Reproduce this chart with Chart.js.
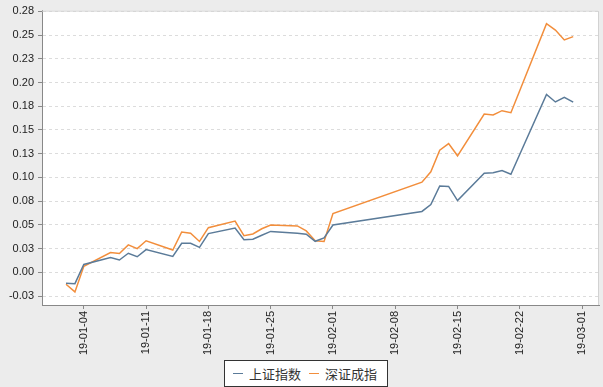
<!DOCTYPE html>
<html>
<head>
<meta charset="utf-8">
<script src="https://cdn.jsdelivr.net/npm/chart.js@4"></script>
<style>
  html, body { margin: 0; padding: 0; background: #ececec; }
  #wrap { position: relative; width: 603px; height: 387px; }
  #legend {
    position: absolute; left: 224px; top: 360px; width: 162px; height: 25px;
    border: 1px solid #333; background: #fff;
    font: 13px "Noto Sans CJK SC", sans-serif; color: #333;
    display: flex; align-items: center; white-space: nowrap;
  }
  #legend .swatch { display: inline-block; width: 10px; height: 0; border-top: 1.5px solid; margin: 0 6px 0 8px; }
</style>
</head>
<body>
<div id="wrap">
  <canvas id="chart" width="603" height="387"></canvas>
  <div id="legend"></div>
</div>
<script>
// trading days, Jan-Feb 2019
const dates = [
  '2019-01-02','2019-01-03','2019-01-04','2019-01-07','2019-01-08','2019-01-09','2019-01-10','2019-01-11',
  '2019-01-14','2019-01-15','2019-01-16','2019-01-17','2019-01-18','2019-01-21','2019-01-22','2019-01-23',
  '2019-01-24','2019-01-25','2019-01-28','2019-01-29','2019-01-30','2019-01-31','2019-02-01','2019-02-11',
  '2019-02-12','2019-02-13','2019-02-14','2019-02-15','2019-02-18','2019-02-19','2019-02-20','2019-02-21',
  '2019-02-22','2019-02-25','2019-02-26','2019-02-27','2019-02-28',
];
// cumulative return
const shIndex = [
  -0.0115, -0.0118, 0.0084, 0.0157, 0.0131, 0.0202, 0.0165, 0.0240,
  0.0168, 0.0307, 0.0307, 0.0264, 0.0409, 0.0468, 0.0344, 0.0349,
  0.0392, 0.0432, 0.0413, 0.0402, 0.0328, 0.0364, 0.0499, 0.0642,
  0.0714, 0.0911, 0.0906, 0.0756, 0.1044, 0.1050, 0.1072, 0.1034,
  0.1244, 0.1874, 0.1795, 0.1844, 0.1793,
];
const szIndex = [
  -0.0125, -0.0205, 0.0065, 0.0210, 0.0200, 0.0290, 0.0250, 0.0333,
  0.0236, 0.0426, 0.0413, 0.0326, 0.0471, 0.0540, 0.0387, 0.0405,
  0.0460, 0.0500, 0.0490, 0.0437, 0.0333, 0.0326, 0.0620, 0.0950,
  0.1060, 0.1287, 0.1356, 0.1228, 0.1668, 0.1658, 0.1703, 0.1682,
  0.1915, 0.2620, 0.2552, 0.2448, 0.2483,
];
const seriesNames = ['上证指数', '深证成指'];
const seriesColors = ['#5b7b99', '#f28e3c'];
const xTickLabels = ['19-01-04','19-01-11','19-01-18','19-01-25','19-02-01','19-02-08','19-02-15','19-02-22','19-03-01'];
const yTicks = [-0.025, 0, 0.025, 0.05, 0.075, 0.1, 0.125, 0.15, 0.175, 0.2, 0.225, 0.25, 0.275];

// x values are days since 2019-01-01
const dayOf = s => (Date.parse(s) - Date.parse('2019-01-01')) / 86400000;
const xTickDays = xTickLabels.map(l => dayOf('20' + l));
const fmt2 = v => (Math.sign(v) * Math.round(Math.abs(v) * 100 + 1e-9) / 100).toFixed(2);

const frame = {
  id: 'frame',
  beforeDraw(chart) {
    const { ctx, chartArea: a } = chart;
    ctx.save();
    ctx.fillStyle = '#ececec';
    ctx.fillRect(0, 0, chart.width, chart.height);
    ctx.fillStyle = '#fff';
    ctx.fillRect(a.left, a.top, a.right - a.left, a.bottom - a.top);
    ctx.restore();
  },
  afterDraw(chart) {
    const { ctx, chartArea: a } = chart;
    ctx.save();
    ctx.strokeStyle = '#d2d2d2';
    ctx.lineWidth = 1;
    ctx.beginPath();
    ctx.moveTo(a.left, a.top + 0.5);
    ctx.lineTo(a.right - 0.5, a.top + 0.5);
    ctx.lineTo(a.right - 0.5, a.bottom);
    ctx.stroke();
    ctx.restore();
  },
};

new Chart(document.getElementById('chart'), {
  type: 'line',
  data: {
    datasets: [shIndex, szIndex].map((vals, i) => ({
      label: seriesNames[i],
      data: vals.map((v, j) => ({ x: dayOf(dates[j]), y: v })),
      borderColor: seriesColors[i],
      backgroundColor: seriesColors[i],
      borderWidth: 1.5,
      pointRadius: 0,
      tension: 0,
    })),
  },
  options: {
    responsive: false,
    animation: false,
    layout: { padding: { left: 0, top: 7, right: 4, bottom: 0 } },
    plugins: { legend: { display: false }, tooltip: { enabled: false } },
    scales: {
      x: {
        type: 'linear',
        min: -1.7, max: 60.9,
        afterBuildTicks: s => { s.ticks = xTickDays.map(v => ({ value: v })); },
        afterFit: s => { s.height = 82; },
        grid: { drawOnChartArea: false, tickLength: 4, tickColor: '#888' },
        border: { color: '#888', width: 1 },
        ticks: {
          minRotation: 90, maxRotation: 90, padding: 2,
          color: '#222', font: { family: 'Liberation Sans', size: 11 },
          callback: (v, i) => xTickLabels[i],
        },
      },
      y: {
        min: -0.0343, max: 0.2757,
        afterBuildTicks: s => { s.ticks = yTicks.map(v => ({ value: v })); },
        afterFit: s => { s.width = 42; },
        grid: { color: '#dcdcdc', tickLength: 4, tickColor: '#888' },
        border: { color: '#888', width: 1, dash: [3, 3] },
        ticks: {
          padding: 4, color: '#222', font: { family: 'Liberation Sans', size: 11 },
          callback: v => fmt2(v),
        },
      },
    },
  },
  plugins: [frame],
});

document.getElementById('legend').innerHTML = seriesNames.map((n, i) =>
  `<span class="swatch" style="border-color:${seriesColors[i]}"></span><span>${n}</span>`
).join('');
</script>
</body>
</html>
